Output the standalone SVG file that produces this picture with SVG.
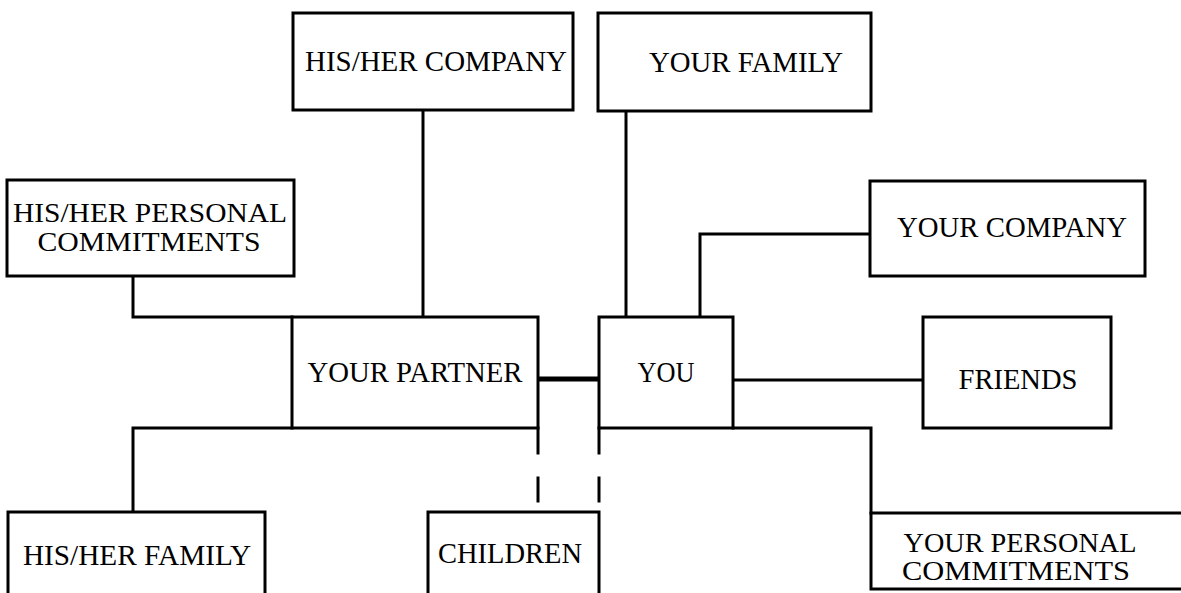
<svg xmlns="http://www.w3.org/2000/svg" width="1181" height="593" viewBox="0 0 1181 593">
<style>
.box{fill:#fff;stroke:#000;stroke-width:3}
.lbl{font-family:"Liberation Serif","Times New Roman",serif;font-size:29.5px;fill:#000;text-anchor:middle}
.two{font-size:28px}
.ln{fill:none;stroke:#000;stroke-width:3;stroke-linecap:square}
</style>
<rect width="1181" height="593" fill="#fff"/>
<g id="connectors">
<path class="ln" d="M423,110 V317"/>
<path class="ln" d="M133,276 V317 H292"/>
<path class="ln" d="M292,428 H133 V512"/>
<path class="ln" d="M538,428 V453 M538,478 V501"/>
<path class="ln" d="M599,428 V453 M599,478 V501"/>
<path class="ln" d="M538,379 H599" style="stroke-width:5"/>
<path class="ln" d="M626,111 V317"/>
<path class="ln" d="M870,234 H700 V317"/>
<path class="ln" d="M733,380 H923"/>
<path class="ln" d="M733,428 H871 V513"/>
</g>
<g id="his-her-company"><rect class="box" x="293" y="13" width="280" height="97"/><text class="lbl" x="436" y="71" textLength="262" lengthAdjust="spacingAndGlyphs">HIS/HER COMPANY</text></g>
<g id="your-family"><rect class="box" x="598" y="13" width="273" height="98"/><text class="lbl" x="746" y="72" textLength="194" lengthAdjust="spacingAndGlyphs">YOUR FAMILY</text></g>
<g id="his-her-personal"><rect class="box" x="7" y="180" width="287" height="96"/><text class="lbl two" x="150" y="222" textLength="274" lengthAdjust="spacingAndGlyphs">HIS/HER PERSONAL</text><text class="lbl two" x="149" y="251" textLength="223" lengthAdjust="spacingAndGlyphs">COMMITMENTS</text></g>
<g id="your-company"><rect class="box" x="870" y="181" width="275" height="95"/><text class="lbl" x="1012" y="237" textLength="230" lengthAdjust="spacingAndGlyphs">YOUR COMPANY</text></g>
<g id="your-partner"><rect class="box" x="292" y="317" width="246" height="111"/><text class="lbl" x="415" y="382" textLength="215" lengthAdjust="spacingAndGlyphs">YOUR PARTNER</text></g>
<g id="you"><rect class="box" x="599" y="317" width="134" height="111"/><text class="lbl" x="666" y="382" textLength="57" lengthAdjust="spacingAndGlyphs">YOU</text></g>
<g id="friends"><rect class="box" x="923" y="317" width="188" height="111"/><text class="lbl" x="1018" y="389" textLength="119" lengthAdjust="spacingAndGlyphs">FRIENDS</text></g>
<g id="his-her-family"><rect class="box" x="8" y="512" width="257" height="95"/><text class="lbl" x="137" y="565" textLength="228" lengthAdjust="spacingAndGlyphs">HIS/HER FAMILY</text></g>
<g id="children"><rect class="box" x="428" y="512" width="171" height="95"/><text class="lbl" x="510" y="563" textLength="144" lengthAdjust="spacingAndGlyphs">CHILDREN</text></g>
<g id="your-personal"><rect class="box" x="871" y="513" width="330" height="76"/><text class="lbl two" x="1020" y="552" textLength="233" lengthAdjust="spacingAndGlyphs">YOUR PERSONAL</text><text class="lbl two" x="1016" y="580" textLength="228" lengthAdjust="spacingAndGlyphs">COMMITMENTS</text></g>
</svg>
